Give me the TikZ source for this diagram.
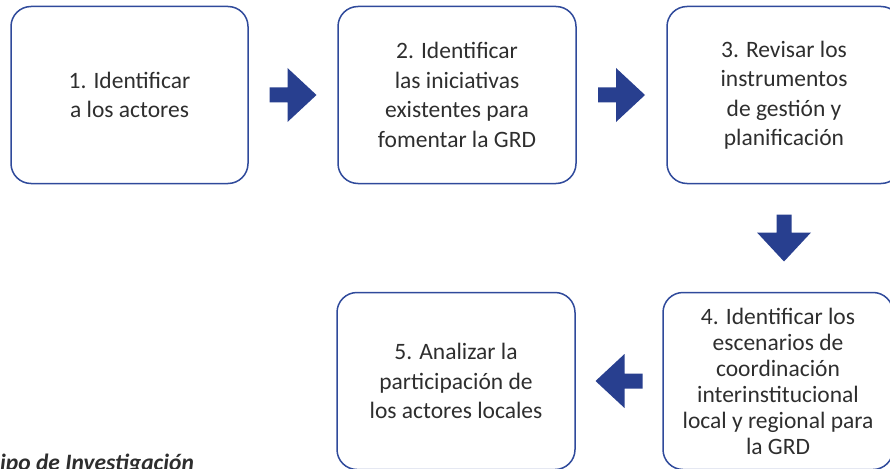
\documentclass[tikz,border=0pt]{standalone}
\usepackage{fontspec}
\setmainfont{Carlito}
\usepackage{pgf,tikz}
\usetikzlibrary{calc}
\definecolor{boxblue}{HTML}{2F4A9B}
\definecolor{arrowblue}{HTML}{283F8F}
\definecolor{textgray}{HTML}{2E2E2E}
\tikzset{
  stepbox/.style={draw=boxblue, line width=1.5pt, rounded corners=20pt, align=center,
    text=textgray, inner sep=0pt, minimum height=177pt, font=\fontsize{23.5}{29.5}\selectfont},
}
% block arrow: centre, angle
\newcommand{\blockarrow}[2]{
  \begin{scope}[shift={(#1)}, rotate=#2]
    \fill[arrowblue] (-23.5,-7.5) -- (-5.5,-7.5) -- (-5.5,-27) -- (23.5,0) -- (-5.5,27) -- (-5.5,7.5) -- (-23.5,7.5) -- cycle;
  \end{scope}
}
\begin{document}
\begin{tikzpicture}[line cap=round,line join=round,x=1pt,y=-1pt]
\useasboundingbox (0,0) rectangle (890,468);
\node[stepbox, minimum width=237pt] (s1) at (129.5,95) {1. Identificar\\a los actores};
\node[stepbox, minimum width=238pt] (s2) at (457,95) {2. Identificar\\las iniciativas\\existentes para\\fomentar la GRD};
\node[stepbox, minimum width=234pt] (s3) at (784,95) {3. Revisar los\\instrumentos\\de gestión y\\planificación};
\node[stepbox, minimum width=230pt, font=\fontsize{23.5}{26}\selectfont] (s4) at (778,381) {4. Identificar los\\escenarios de\\coordinación\\interinstitucional\\local y regional para\\la GRD};
\node[stepbox, minimum width=238pt] (s5) at (456,381) {5. Analizar la\\participación de\\los actores locales};
\blockarrow{$(s1.east)!0.5!(s2.west)$}{0}
\blockarrow{$(s2.east)!0.5!(s3.west)$}{0}
\blockarrow{$(s3.south)!0.5!(s3.south|-s4.north)$}{-90}
\blockarrow{$(s4.west)!0.5!(s5.east)$}{180}
\node[anchor=base west, inner sep=0pt, font=\fontsize{23.5}{28}\selectfont\bfseries\itshape, text=textgray] (src) at (0,470) {ipo de Investigación};
\end{tikzpicture}
\end{document}
